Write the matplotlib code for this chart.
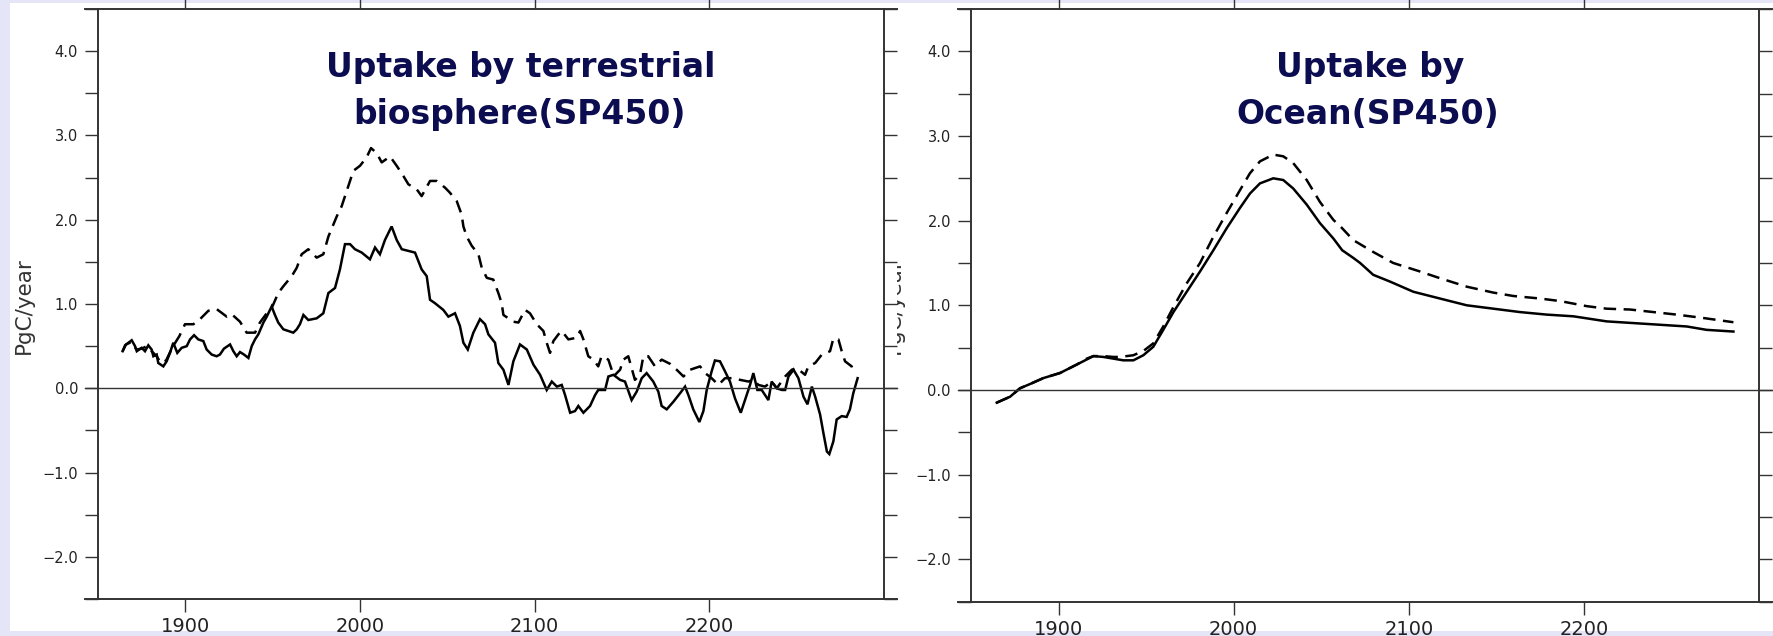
#!/usr/bin/env python

"""Carbon uptake by land and ocean for the SP450 scenario.

Two panels side by side, as in the original slide screenshot.
"""

import matplotlib
matplotlib.use("Agg")
import matplotlib.pyplot as plt
from matplotlib.patches import Rectangle
from matplotlib.ticker import MultipleLocator
from matplotlib.transforms import blended_transform_factory

# ---- data (PgC/year) ----
land_years = [
    1864.1, 1865.5, 1869.3, 1871.2, 1872.2, 1875.0, 1876.9, 1878.8, 1880.7,
    1881.7, 1883.6, 1884.5, 1887.4, 1889.3, 1891.2, 1893.1, 1895.4, 1897.9,
    1900.8, 1902.7, 1905.0, 1907.4, 1910.3, 1912.2, 1915.1, 1917.9, 1919.8,
    1922.1, 1925.6, 1927.5, 1929.4, 1931.3, 1933.6, 1936.1, 1938.0, 1939.9,
    1941.8, 1944.7, 1946.6, 1949.4, 1951.3, 1953.2, 1956.1, 1959.0, 1961.8,
    1963.8, 1965.6, 1967.6, 1970.4, 1975.2, 1979.0, 1981.9, 1985.7, 1988.5,
    1991.4, 1994.3, 1997.1, 2001.0, 2005.7, 2008.6, 2011.4, 2014.3, 2018.1,
    2021.0, 2023.9, 2027.7, 2031.5, 2035.3, 2038.2, 2040.1, 2042.9, 2047.7,
    2050.6, 2054.4, 2057.2, 2059.2, 2061.7, 2064.9, 2068.7, 2071.6, 2073.5,
    2077.3, 2079.2, 2082.1, 2085.0, 2087.8, 2091.6, 2095.5, 2099.3, 2103.1,
    2106.9, 2109.8, 2112.7, 2115.5, 2117.4, 2120.3, 2123.1, 2125.0, 2127.9,
    2131.7, 2134.6, 2136.4, 2140.3, 2142.2, 2145.1, 2148.9, 2151.7, 2155.5,
    2158.4, 2161.3, 2164.1, 2167.9, 2170.8, 2172.7, 2175.6, 2179.4, 2183.2,
    2186.1, 2188.0, 2190.8, 2194.3, 2196.6, 2198.5, 2201.3, 2203.2, 2206.1,
    2209.0, 2211.8, 2214.7, 2218.0, 2220.4, 2223.3, 2225.2, 2227.5, 2230.0,
    2233.8, 2235.7, 2238.6, 2241.5, 2243.4, 2245.3, 2248.2, 2251.0, 2253.9,
    2256.2, 2258.7, 2260.6, 2263.4, 2265.3, 2267.3, 2268.7, 2271.0, 2272.9,
    2275.8, 2278.6, 2280.5, 2282.4, 2284.9]
land_solid = [
    0.44, 0.51, 0.57, 0.50, 0.44, 0.48, 0.44, 0.51, 0.46,
    0.38, 0.40, 0.30, 0.26, 0.32, 0.42, 0.54, 0.42, 0.48,
    0.50, 0.58, 0.63, 0.58, 0.56, 0.46, 0.40, 0.38, 0.40,
    0.47, 0.52, 0.44, 0.38, 0.43, 0.40, 0.36, 0.50, 0.58,
    0.64, 0.78, 0.85, 0.97, 0.87, 0.78, 0.70, 0.68, 0.66,
    0.70, 0.76, 0.87, 0.81, 0.83, 0.89, 1.13, 1.19, 1.41,
    1.71, 1.71, 1.65, 1.61, 1.53, 1.67, 1.59, 1.76, 1.92,
    1.76, 1.65, 1.63, 1.61, 1.41, 1.33, 1.05, 1.01, 0.93,
    0.85, 0.89, 0.74, 0.54, 0.46, 0.66, 0.82, 0.76, 0.64,
    0.54, 0.30, 0.22, 0.04, 0.32, 0.52, 0.46, 0.28, 0.16,
    -0.02, 0.08, 0.02, 0.04, -0.08, -0.29, -0.27, -0.21, -0.29,
    -0.21, -0.08, -0.02, -0.02, 0.14, 0.16, 0.10, 0.08, -0.14,
    -0.04, 0.12, 0.18, 0.08, -0.04, -0.21, -0.25, -0.16, -0.06,
    0.02, -0.08, -0.25, -0.40, -0.27, -0.02, 0.20, 0.33, 0.32,
    0.20, 0.08, -0.12, -0.29, -0.14, 0.04, 0.18, -0.02, -0.02,
    -0.14, 0.08, 0.00, -0.02, -0.02, 0.14, 0.22, 0.12, -0.10,
    -0.19, 0.02, -0.10, -0.31, -0.53, -0.75, -0.78, -0.63, -0.37,
    -0.33, -0.34, -0.25, -0.06, 0.12]

land_dash_years = [
    1864.1, 1866.0, 1869.3, 1872.0, 1875.0, 1878.0, 1880.7, 1883.6, 1886.0,
    1889.0, 1892.0, 1894.5, 1896.6, 1899.8, 1904.6, 1908.4, 1913.2, 1917.9,
    1923.7, 1926.5, 1931.3, 1935.1, 1939.9, 1942.7, 1946.6, 1949.4, 1953.2,
    1956.1, 1960.9, 1963.8, 1966.6, 1970.4, 1975.2, 1979.0, 1981.9, 1986.7,
    1989.5, 1992.4, 1996.2, 2000.0, 2003.8, 2006.3, 2009.6, 2012.4, 2017.2,
    2021.0, 2024.8, 2027.7, 2032.5, 2035.3, 2040.1, 2043.9, 2048.7, 2051.5,
    2055.4, 2058.2, 2059.2, 2061.1, 2064.0, 2067.8, 2069.7, 2072.6, 2076.3,
    2079.2, 2081.1, 2082.1, 2087.8, 2090.7, 2094.5, 2097.3, 2101.2, 2105.0,
    2106.9, 2108.8, 2110.7, 2113.6, 2115.5, 2119.3, 2124.1, 2126.0, 2127.9,
    2130.7, 2133.6, 2136.4, 2138.3, 2142.2, 2144.1, 2145.1, 2148.9, 2150.8,
    2153.6, 2155.5, 2157.4, 2160.3, 2162.2, 2165.0, 2168.9, 2172.7, 2177.5,
    2181.3, 2185.2, 2189.0, 2194.7, 2197.6, 2201.3, 2205.2, 2209.0, 2213.8,
    2217.6, 2222.4, 2225.2, 2228.1, 2231.9, 2235.7, 2238.6, 2243.4, 2247.2,
    2250.1, 2254.8, 2256.7, 2260.6, 2264.4, 2269.1, 2271.0, 2273.9, 2275.8,
    2277.7, 2281.5, 2282.4]
land_dash = [
    0.44, 0.52, 0.55, 0.46, 0.47, 0.50, 0.44, 0.38, 0.30,
    0.33, 0.46, 0.55, 0.62, 0.76, 0.76, 0.82, 0.92, 0.94,
    0.85, 0.88, 0.79, 0.66, 0.66, 0.78, 0.89, 0.95, 1.13,
    1.21, 1.33, 1.43, 1.59, 1.65, 1.55, 1.59, 1.80, 2.04,
    2.16, 2.34, 2.58, 2.64, 2.74, 2.85, 2.79, 2.68, 2.75,
    2.64, 2.52, 2.42, 2.36, 2.28, 2.46, 2.46, 2.38, 2.32,
    2.22, 2.06, 1.92, 1.80, 1.69, 1.59, 1.43, 1.31, 1.29,
    1.13, 1.01, 0.87, 0.79, 0.78, 0.93, 0.89, 0.76, 0.68,
    0.54, 0.42, 0.56, 0.64, 0.68, 0.58, 0.60, 0.68, 0.58,
    0.38, 0.34, 0.26, 0.38, 0.34, 0.22, 0.14, 0.22, 0.34,
    0.38, 0.24, 0.10, 0.16, 0.38, 0.38, 0.26, 0.34, 0.29,
    0.22, 0.14, 0.22, 0.26, 0.18, 0.12, 0.04, 0.12, 0.12,
    0.10, 0.08, 0.10, 0.04, 0.02, 0.08, 0.00, 0.14, 0.22,
    0.24, 0.16, 0.26, 0.30, 0.40, 0.44, 0.59, 0.58, 0.44,
    0.32, 0.26, 0.20]

ocean_years = [
    1864.7, 1872.3, 1878.0, 1883.7, 1891.3, 1900.8, 1910.4, 1916.1, 1919.9,
    1925.6, 1931.3, 1937.0, 1942.7, 1948.4, 1954.1, 1959.8, 1965.6, 1973.2,
    1980.8, 1988.4, 1996.0, 2003.6, 2009.3, 2015.0, 2022.6, 2028.3, 2034.0,
    2041.7, 2049.3, 2056.9, 2062.0, 2068.3, 2072.2, 2079.7, 2089.3, 2102.6,
    2117.8, 2133.1, 2148.3, 2163.5, 2178.8, 2194.0, 2203.5, 2213.0, 2228.3,
    2243.5, 2258.7, 2270.1, 2285.4]
ocean_solid = [
    -0.15, -0.08, 0.02, 0.07, 0.14, 0.20, 0.30, 0.36, 0.40,
    0.39, 0.37, 0.35, 0.35, 0.41, 0.51, 0.71, 0.92, 1.16,
    1.40, 1.65, 1.91, 2.15, 2.32, 2.44, 2.50, 2.48, 2.38,
    2.19, 1.97, 1.79, 1.65, 1.56, 1.50, 1.36, 1.28, 1.16,
    1.08, 1.00, 0.96, 0.92, 0.89, 0.87, 0.84, 0.81, 0.79,
    0.77, 0.75, 0.71, 0.69]

ocean_dash_years = [
    1864.7, 1872.3, 1878.0, 1883.7, 1891.3, 1900.8, 1910.4, 1916.1, 1919.9,
    1925.6, 1931.3, 1935.1, 1942.7, 1948.4, 1954.1, 1959.8, 1965.6, 1973.2,
    1980.8, 1988.4, 1996.0, 2003.6, 2009.3, 2015.0, 2022.6, 2028.3, 2034.0,
    2041.7, 2049.3, 2056.9, 2061.5, 2068.3, 2079.7, 2091.1, 2106.3, 2117.8,
    2133.1, 2148.3, 2159.7, 2175.0, 2186.4, 2201.6, 2213.0, 2226.4, 2239.7,
    2253.0, 2268.2, 2285.4]
ocean_dash = [
    -0.15, -0.08, 0.02, 0.07, 0.14, 0.20, 0.30, 0.37, 0.40,
    0.40, 0.39, 0.39, 0.41, 0.46, 0.55, 0.75, 0.98, 1.26,
    1.50, 1.81, 2.09, 2.36, 2.56, 2.70, 2.78, 2.76, 2.68,
    2.48, 2.22, 2.01, 1.92, 1.77, 1.63, 1.50, 1.40, 1.32,
    1.22, 1.15, 1.11, 1.08, 1.05, 0.99, 0.96, 0.95, 0.92,
    0.89, 0.85, 0.80]

xticks = [1900, 2000, 2100, 2200]
xticklabels = ["1900", "2000", "2100", "2200"]
yticks = [-2, -1, 0, 1, 2, 3, 4]
yticklabels = ["\u22122.0", "\u22121.0", "0.0", "1.0", "2.0", "3.0", "4.0"]

W, H = 1773, 636
LAVENDER = "#e4e6f8"
NAVY = "#0c0c50"
GREY = "#333333"


def fx(px):
    return px / W


def fy(py):
    return 1 - py / H


def draw_panel(ax, years_s, solid, years_d, dash, width_px):
    """Draw one GrADS-looking panel."""
    ax.set_xlim(1850, 2300)
    ax.set_ylim(-2.5, 4.5)
    ax.set_facecolor("none")

    ax.plot(years_s, solid, color="black", lw=1.8, solid_joinstyle="miter")
    ax.plot(years_d, dash, color="black", lw=1.8, ls=(0, (5, 3)))

    ext = 13.0 / width_px
    blend = blended_transform_factory(ax.transAxes, ax.transData)
    ax.plot([-ext, 1 + ext], [0, 0], color=GREY, lw=1.0,
            transform=blend, clip_on=False)
    # top and bottom frame lines run past the side spines
    for yy in (0, 1):
        ax.plot([-ext, 1 + ext], [yy, yy], color=GREY, lw=1.4,
                transform=ax.transAxes, clip_on=False)
    ax.spines["top"].set_visible(False)
    ax.spines["bottom"].set_visible(False)
    for side in ("left", "right"):
        ax.spines[side].set_linewidth(1.4)
        ax.spines[side].set_color(GREY)

    ax.set_xticks(xticks)
    ax.set_xticklabels(xticklabels)
    ax.set_yticks(yticks)
    ax.set_yticklabels(yticklabels)
    ax.yaxis.set_minor_locator(MultipleLocator(0.5))

    ax.tick_params(which="both", direction="out", length=9.4, width=1.0,
                   color=GREY, top=True, right=True,
                   labeltop=False, labelright=False)
    ax.tick_params(axis="x", labelsize=14, pad=3.5, labelcolor="#222222")
    ax.tick_params(axis="y", labelsize=10.5, pad=5, labelcolor="#222222")


def main():
    plt.rcParams["font.family"] = ["DejaVu Sans"]
    fig = plt.figure(figsize=(W / 100, H / 100), dpi=100,
                     facecolor=LAVENDER)

    # right-hand screenshot sits underneath the left-hand one
    fig.add_artist(Rectangle((fx(884), fy(631)), fx(W - 884), (631 - 3) / H,
                             transform=fig.transFigure, facecolor="white",
                             edgecolor="none", zorder=-3))
    ax_r = fig.add_axes([fx(971), fy(601.6), (1759 - 971) / W,
                         (601.6 - 9) / H])
    ax_r.set_zorder(-2)
    draw_panel(ax_r, ocean_years, ocean_solid, ocean_dash_years, ocean_dash,
               788)
    fig.text(fx(894), fy(306), "PgC/year", rotation=90, ha="center",
             va="center", fontsize=15.5, color=GREY, zorder=-1.5)

    fig.add_artist(Rectangle((fx(10), fy(631)), fx(897 - 10), (631 - 3) / H,
                             transform=fig.transFigure, facecolor="white",
                             edgecolor="none", zorder=-1))
    ax_l = fig.add_axes([fx(98), fy(599), (884 - 98) / W, (599 - 9) / H])
    ax_l.set_zorder(0)
    draw_panel(ax_l, land_years, land_solid, land_dash_years, land_dash, 786)
    fig.text(fx(24), fy(306), "PgC/year", rotation=90, ha="center",
             va="center", fontsize=15.5, color=GREY, zorder=3)

    title_kw = dict(ha="center", va="baseline", fontsize=23.8,
                    fontweight="bold", color=NAVY, zorder=4)
    fig.text(fx(521), fy(77), "Uptake by terrestrial", **title_kw)
    fig.text(fx(519), fy(124), "biosphere(SP450)", **title_kw)
    fig.text(fx(1370), fy(77), "Uptake by", **title_kw)
    fig.text(fx(1368), fy(124), "Ocean(SP450)", **title_kw)

    fig.savefig("out.png", dpi=100, facecolor=LAVENDER)


if __name__ == "__main__":
    main()
